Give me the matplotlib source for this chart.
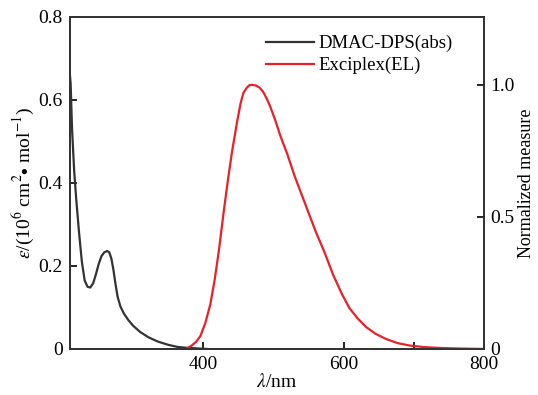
import matplotlib.pyplot as plt
from matplotlib.ticker import FixedLocator

plt.rcParams.update({"font.family": "Liberation Serif", "mathtext.fontset": "stix",
                     "font.size": 14})

# absorption of DMAC-DPS (left axis)
abs_nm = [210, 211, 213, 216, 219, 223, 227, 231, 235, 239, 243, 247, 251, 255, 259, 263,
          266, 269, 272, 275, 278, 282, 287, 293, 300, 310, 322, 335, 350, 363, 375, 385,
          395, 405]
abs_eps = [0.66, 0.64, 0.53, 0.43, 0.36, 0.28, 0.21, 0.165, 0.15, 0.148, 0.158, 0.18,
           0.205, 0.224, 0.233, 0.236, 0.233, 0.218, 0.19, 0.155, 0.125, 0.102, 0.085,
           0.07, 0.056, 0.041, 0.028, 0.018, 0.010, 0.005, 0.003, 0.002, 0.001, 0.0]

# electroluminescence of the exciplex (right axis)
el_nm = [377, 383, 390, 396, 403, 410, 416, 422, 429, 435, 441, 448, 453, 457, 462, 466,
         470, 475, 480, 485, 490, 495, 502, 510, 520, 530, 540, 550, 560, 572, 585, 597,
         608, 620, 632, 645, 660, 677, 694, 715, 736, 760, 780, 800]
el_int = [0.003, 0.012, 0.028, 0.05, 0.10, 0.17, 0.26, 0.37, 0.52, 0.64, 0.75, 0.86,
          0.93, 0.97, 0.99, 1.0, 1.0, 0.998, 0.99, 0.975, 0.95, 0.92, 0.87, 0.805, 0.735,
          0.655, 0.585, 0.515, 0.445, 0.37, 0.28, 0.21, 0.155, 0.115, 0.083, 0.058, 0.038,
          0.022, 0.013, 0.007, 0.004, 0.002, 0.001, 0.0]

fig = plt.figure(figsize=(5.38, 3.95), dpi=100)
ax = fig.add_axes([0.130, 0.1165, 0.770, 0.8405])
ax2 = ax.twinx()

l1, = ax.plot(abs_nm, abs_eps, color="#333333", lw=1.6, label="DMAC-DPS(abs)")
l2, = ax2.plot(el_nm, el_int, color="#e8202a", lw=1.6, label="Exciplex(EL)")

ax.set_xlim(210, 800)
ax.set_ylim(0, 0.8)
ax2.set_ylim(0, 1.2576)
ax.set_xticks([400, 600, 800])
ax.xaxis.set_minor_locator(FixedLocator([700]))
ax.set_yticks([0, 0.2, 0.4, 0.6, 0.8])
ax.set_yticklabels(["0", "0.2", "0.4", "0.6", "0.8"])
ax2.set_yticks([0, 0.5, 1.0])
ax2.set_yticklabels(["0", "0.5", "1.0"])

ax.tick_params(direction="in", length=5, width=1.2, top=False, right=False, pad=5)
ax.tick_params(which="minor", direction="in", length=5, width=1.2)
ax2.tick_params(direction="in", length=5, width=1.2, pad=4)
for a in (ax, ax2):
    for s in a.spines.values():
        s.set_linewidth(1.3)
        s.set_color("#333333")

ax.set_xlabel(r"$\lambda$/nm", labelpad=0)
ax.set_ylabel(r"$\varepsilon$/(10$^6$ cm$^2$$\bullet$ mol$^{-1}$)", labelpad=2)
ax2.set_ylabel("Normalized measure", labelpad=3, fontsize=13)

ax.legend(handles=[l1, l2], loc="upper right", bbox_to_anchor=(0.955, 0.985),
          frameon=False, handlelength=2.6, handletextpad=0.2, labelspacing=0.25,
          borderaxespad=0.3, fontsize=13.5)

fig.savefig("out.png", dpi=100)
